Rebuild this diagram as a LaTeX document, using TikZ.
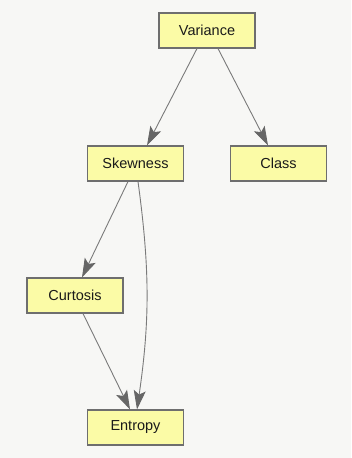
\documentclass[tikz,border=0pt]{standalone}
\usepackage{fontspec}
\setmainfont{Liberation Sans}
\usetikzlibrary{arrows.meta,positioning}
\definecolor{bgc}{HTML}{F7F7F5}
\definecolor{boxfill}{HTML}{FBFBA6}
\definecolor{boxline}{HTML}{6E6E6E}
\definecolor{edgec}{HTML}{7A7A7A}
\definecolor{tipc}{HTML}{666666}
\definecolor{txt}{HTML}{1A1A1A}
\tikzset{
  varbox/.style={draw=boxline, line width=1.1pt, fill=boxfill, minimum width=96pt, minimum height=35pt, inner sep=0pt, text=txt, font=\fontsize{14.5pt}{16pt}\selectfont},
  edge/.style={draw=edgec, line width=0.9pt, arrows={-Stealth[length=19pt, width=12pt, inset=4pt, color=tipc]}}
}
\begin{document}
\begin{tikzpicture}[x=1pt,y=-1pt]
\fill[bgc] (0,0) rectangle (351,458);
\useasboundingbox (0,0) rectangle (351,458);
\node[varbox] (V) at (207,30.5) {Variance};
\node[varbox] (S) at (135.5,163.5) {Skewness};
\node[varbox] (C) at (278.5,163.5) {Class};
\node[varbox] (K) at (75,295.5) {Curtosis};
\node[varbox] (E) at (135.5,427.5) {Entropy};
\draw[edge] ([xshift=-10pt]V.south) -- ([xshift=11.5pt]S.north);
\draw[edge] ([xshift=11pt]V.south) -- ([xshift=-10.5pt]C.north);
\draw[edge] ([xshift=-7.5pt]S.south) -- ([xshift=7pt]K.north);
\draw[edge] ([xshift=2.5pt]S.south) to[bend left=8] ([xshift=1.5pt]E.north);
\draw[edge] ([xshift=8pt]K.south) -- ([xshift=-5.5pt]E.north);
\end{tikzpicture}
\end{document}
